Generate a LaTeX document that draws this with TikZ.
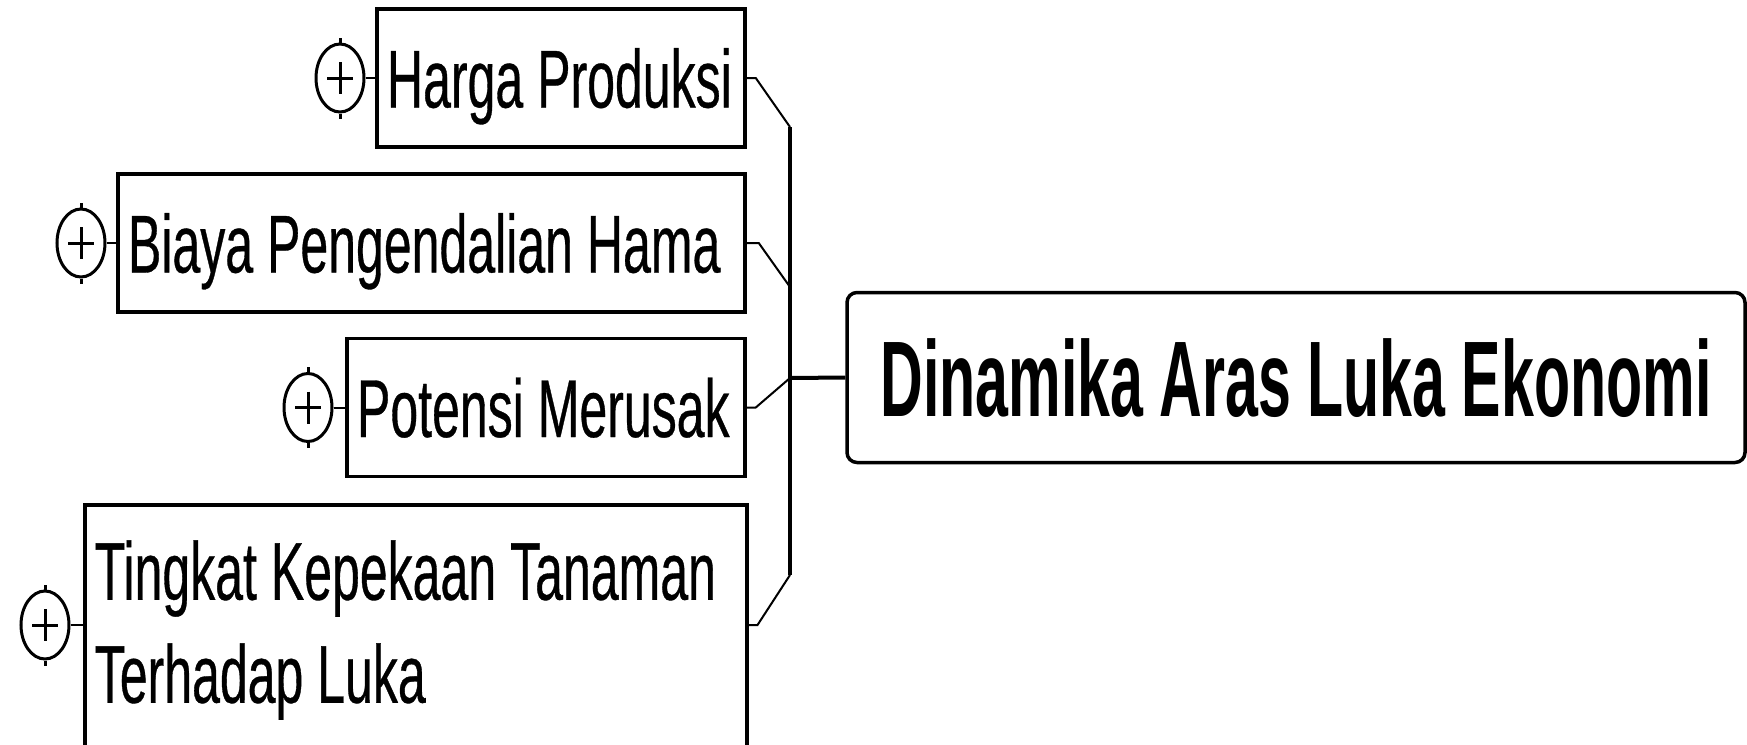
\documentclass[tikz,border=0pt]{standalone}
\usepackage{fontspec}
\setmainfont{Liberation Sans}[FakeStretch=0.61, FakeBold=0.4]
\newfontfamily\titlefont{Liberation Sans}[FakeStretch=0.55]
\usetikzlibrary{shapes.geometric}
\newcommand\topicfont{\fontsize{82}{103}\selectfont}
\newcommand\centralfont{\titlefont\bfseries\fontsize{107.5}{120}\selectfont}
\newcommand\tsp{\spaceskip=14pt\relax\xspaceskip=14pt\relax}
\tikzset{
  topic/.style={draw, line width=3.5pt, rectangle, inner xsep=10pt, inner ysep=0pt,
    align=left, font=\topicfont, text height=59pt},
  single/.style={topic, text depth=0pt, minimum height=138pt},
  collapse/.style={draw, ellipse, line width=3pt, inner sep=0pt,
    minimum width=48pt, minimum height=68pt},
  link/.style={line width=2pt},
  trunk/.style={line width=4pt},
  central/.style={draw, rounded corners=10pt, line width=3.5pt,
    minimum width=898pt, minimum height=170pt, inner sep=0pt,
    font=\centralfont, text height=77pt, text depth=0pt}
}
\begin{document}
\begin{tikzpicture}[x=1pt,y=-1pt]
\useasboundingbox (0,0) rectangle (1747,744);
\fill[white] (0,0) rectangle (1747,744);

% topic boxes
\node[single, text width=348pt] (harga) at (561,78) {\tsp\mbox{Harga Produksi}};
\node[single, text width=607pt] (biaya) at (431.5,243) {\tsp\mbox{Biaya Pengendalian Hama}};
\node[single, text width=378pt] (potensi) at (546,407.5) {\tsp\mbox{Potensi Merusak}};
\node[topic, text width=642pt, inner ysep=36pt, anchor=north west] (tingkat) at (83,503)
  {\tsp\mbox{Tingkat Kepekaan Tanaman}\\\mbox{Terhadap Luka}};

% central topic
\node[central] (dyn) at (1296,377.5) {Dinamika Aras Luka Ekonomi};

% collapse markers
\node[collapse] (ch) at (340,78) {};
\node[collapse] (cb) at (81,243) {};
\node[collapse] (cp) at (308,407.5) {};
\node[collapse] (ct) at (45,625) {};
\foreach \c in {ch,cb,cp,ct} {
  \draw[line width=3pt] (\c.center) +(-13,0) -- +(13,0);
  \draw[line width=3pt] (\c.center) +(0,-16) -- +(0,16);
  \draw[line width=3pt] (\c.north) -- +(0,-5);
  \draw[line width=3pt] (\c.south) -- +(0,5);
}
\draw[link] (ch.east) -- (harga.west);
\draw[link] (cb.east) -- (biaya.west);
\draw[link] (cp.east) -- (potensi.west);
\draw[link] (ct.east) -- (ct.east -| tingkat.west);

% connectors
\coordinate (tA) at (790,127);
\coordinate (tB) at (790,287);
\coordinate (j) at (790,378);
\coordinate (tD) at (790,575);
\draw[trunk] (tA) -- (tD);
\draw[link] (harga.east) -- ++(9,0) -- (tA);
\draw[link] (biaya.east) -- ++(12,0) -- (tB);
\draw[link] (potensi.east) -- ++(9,0) -- (j);
\draw[link] (ct.east -| tingkat.east) -- ++(9,0) -- (tD);
\draw[trunk] (j) -- (dyn.west);
\end{tikzpicture}
\end{document}
